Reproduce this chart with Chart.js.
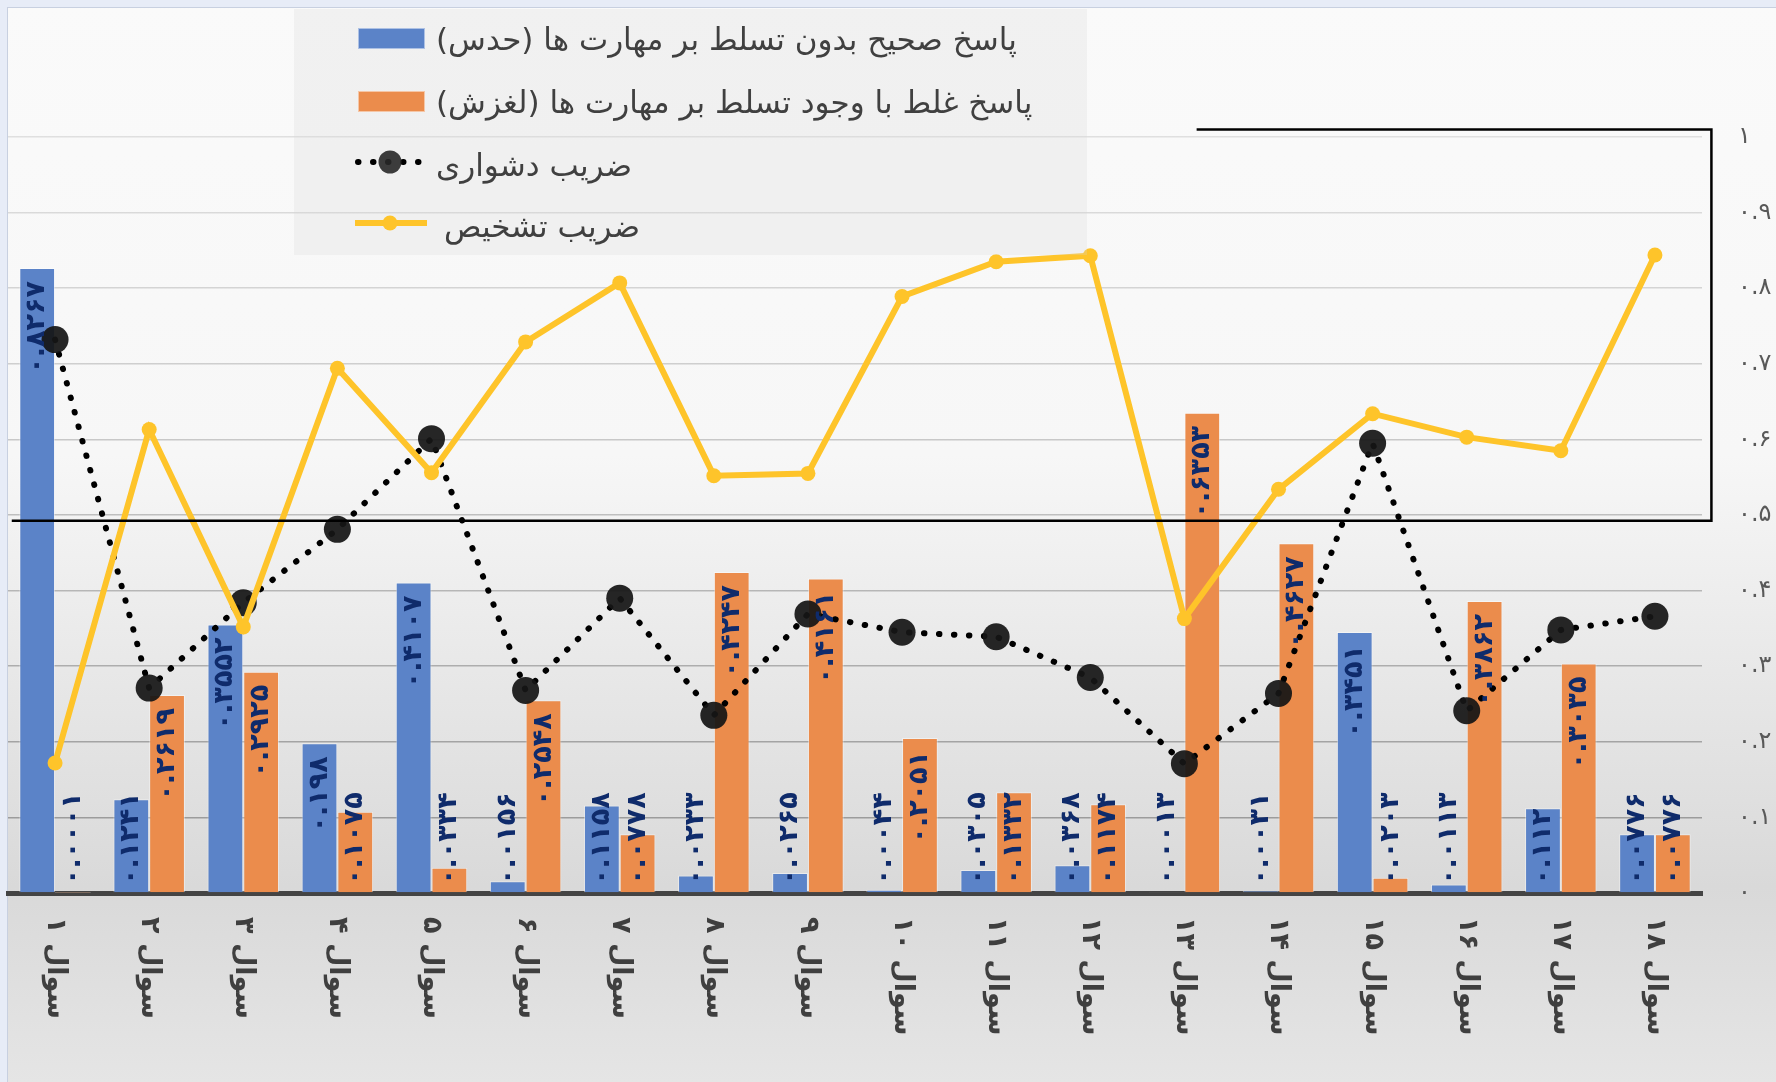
<!DOCTYPE html>
<html lang="fa">
<head>
<meta charset="utf-8">
<title>ضریب دشواری و تشخیص سوالات</title>
<script src="https://cdn.jsdelivr.net/npm/chart.js@4.4.1/dist/chart.umd.min.js"></script>
<style>
  html, body { margin: 0; padding: 0; background: #fafafa; }
  #wrap { position: relative; width: 1776px; height: 1082px; }
</style>
</head>
<body>
<div id="wrap"><canvas id="chart"></canvas></div>
<script>
/* ============================================================
   DATA
   ============================================================ */
const questions = ['سوال ۱', 'سوال ۲', 'سوال ۳', 'سوال ۴', 'سوال ۵', 'سوال ۶', 'سوال ۷', 'سوال ۸', 'سوال ۹',
  'سوال ۱۰', 'سوال ۱۱', 'سوال ۱۲', 'سوال ۱۳', 'سوال ۱۴', 'سوال ۱۵', 'سوال ۱۶', 'سوال ۱۷', 'سوال ۱۸'];

// پاسخ صحیح بدون تسلط (حدس)
const guessValues = [0.8267, 0.1241, 0.3552, 0.198, 0.4107, 0.0156, 0.1158, 0.0233, 0.0265,
  0.0044, 0.0305, 0.0368, 0.0013, 0.0031, 0.3451, 0.0113, 0.112, 0.0776];
// پاسخ غلط با وجود تسلط (لغزش)
const slipValues = [0.0001, 0.2619, 0.2925, 0.1075, 0.0334, 0.2548, 0.0778, 0.4247, 0.4161,
  0.2051, 0.1332, 0.1174, 0.6353, 0.4627, 0.0203, 0.3862, 0.3035, 0.0776];
// ضریب دشواری
const difficulty = [0.732, 0.271, 0.384, 0.481, 0.601, 0.268, 0.390, 0.235, 0.369,
  0.345, 0.339, 0.285, 0.171, 0.264, 0.595, 0.241, 0.348, 0.366];
// ضریب تشخیص
const discrimination = [0.172, 0.613, 0.352, 0.694, 0.556, 0.729, 0.807, 0.552, 0.555,
  0.789, 0.835, 0.843, 0.363, 0.534, 0.634, 0.603, 0.585, 0.844];

const yTickLabels = ['۰', '۰.۱', '۰.۲', '۰.۳', '۰.۴', '۰.۵', '۰.۶', '۰.۷', '۰.۸', '۰.۹', '۱'];

const legendLabels = [
  'پاسخ صحیح بدون تسلط بر مهارت ها (حدس)',
  'پاسخ غلط با وجود تسلط بر مهارت ها (لغزش)',
  'ضریب دشواری',
  'ضریب تشخیص'
];

// highlighted box (value units: category index / y value)
const boxTop = 1.01, boxBottom = 0.4925;
const boxTopFrom = 12.13, boxRight = 17.6, boxBottomFrom = -0.46;

/* ============================================================
   HELPERS
   ============================================================ */
const FA_DIGITS = '۰۱۲۳۴۵۶۷۸۹';
const toFa = s => String(s).replace(/\d/g, d => FA_DIGITS[d]);
const fmtValue = v => toFa(parseFloat(v.toFixed(4)).toString());

const BLUE = '#5b83c8';
const ORANGE = '#eb8c4c';
const YELLOW = '#fec42a';
const FONT = "'DejaVu Sans'";

/* ============================================================
   PLUGINS
   ============================================================ */
const backgroundPlugin = {
  id: 'bg',
  beforeDraw(chart) {
    const { ctx, width, height } = chart;
    ctx.save();
    const g = ctx.createLinearGradient(0, 0, 0, height);
    g.addColorStop(0, '#fafafa');
    g.addColorStop(0.42, '#f7f7f7');
    g.addColorStop(0.82, '#d9d9d9');
    g.addColorStop(1, '#e5e5e5');
    ctx.fillStyle = g;
    ctx.fillRect(0, 0, width, height);
    // selection frame on top / left
    ctx.fillStyle = '#e7ecf7';
    ctx.fillRect(0, 0, width, 7);
    ctx.fillRect(0, 0, 7, height);
    ctx.fillStyle = '#c8d0e0';
    ctx.fillRect(7, 7, width, 1);
    ctx.fillRect(7, 7, 1, height);
    ctx.restore();
  }
};

const overlayPlugin = {
  id: 'overlay',
  afterDatasetsDraw(chart) {
    const { ctx, chartArea } = chart;
    const xs = chart.scales.x, ys = chart.scales.y;

    // black frame
    ctx.save();
    ctx.strokeStyle = '#000';
    ctx.lineWidth = 2.5;
    ctx.beginPath();
    ctx.moveTo(xs.getPixelForValue(boxTopFrom), ys.getPixelForValue(boxTop));
    ctx.lineTo(xs.getPixelForValue(boxRight), ys.getPixelForValue(boxTop));
    ctx.lineTo(xs.getPixelForValue(boxRight), ys.getPixelForValue(boxBottom));
    ctx.lineTo(xs.getPixelForValue(boxBottomFrom), ys.getPixelForValue(boxBottom));
    ctx.stroke();
    ctx.restore();

    // bar value labels (rotated)
    ctx.save();
    ctx.font = `bold 27px ${FONT}`;
    ctx.fillStyle = '#0f2b6b';
    ctx.direction = 'ltr';
    ctx.textAlign = 'right';
    ctx.textBaseline = 'middle';
    const base = chartArea.bottom;
    [2, 3].forEach(di => {
      const meta = chart.getDatasetMeta(di);
      const values = chart.data.datasets[di].data;
      meta.data.forEach((bar, i) => {
        const txt = fmtValue(values[i]);
        const w = ctx.measureText(txt).width;
        let top = bar.y + 13;
        if (top + w > base - 8) top = base - 8 - w;
        ctx.save();
        ctx.translate(bar.x, top);
        ctx.rotate(-Math.PI / 2);
        ctx.fillText(txt, 0, 0);
        ctx.restore();
      });
    });
    ctx.restore();
  },
  afterDraw(chart) {
    const { ctx, chartArea } = chart;
    const xs = chart.scales.x;

    // category labels, rotated clockwise
    ctx.save();
    ctx.font = `bold 27px ${FONT}`;
    ctx.fillStyle = '#3f3f3f';
    ctx.direction = 'rtl';
    ctx.textAlign = 'left';
    ctx.textBaseline = 'middle';
    questions.forEach((q, i) => {
      ctx.save();
      ctx.translate(xs.getPixelForValue(i), chartArea.bottom + 24);
      ctx.rotate(Math.PI / 2);
      ctx.fillText(q, 0, 0);
      ctx.restore();
    });
    ctx.restore();

    // legend
    ctx.save();
    ctx.fillStyle = 'rgba(215,215,215,0.25)';
    ctx.fillRect(294, 9, 793, 246);

    ctx.fillStyle = BLUE;
    ctx.fillRect(358, 28, 67, 21);
    ctx.fillStyle = ORANGE;
    ctx.fillRect(358, 91, 67, 21);
    ctx.strokeStyle = 'rgba(255,255,255,0.5)';
    ctx.lineWidth = 1;
    ctx.strokeRect(358.5, 28.5, 66, 20);
    ctx.strokeRect(358.5, 91.5, 66, 20);

    // dotted symbol
    ctx.strokeStyle = '#000';
    ctx.lineWidth = 6;
    ctx.lineCap = 'round';
    ctx.setLineDash([0.5, 14.5]);
    ctx.beginPath();
    ctx.moveTo(358, 162);
    ctx.lineTo(422, 162);
    ctx.stroke();
    ctx.setLineDash([]);
    ctx.fillStyle = 'rgba(40,40,40,0.9)';
    ctx.beginPath();
    ctx.arc(390, 162, 11.5, 0, Math.PI * 2);
    ctx.fill();

    // yellow symbol
    ctx.strokeStyle = YELLOW;
    ctx.lineWidth = 6;
    ctx.lineCap = 'butt';
    ctx.beginPath();
    ctx.moveTo(355, 223);
    ctx.lineTo(427, 223);
    ctx.stroke();
    ctx.fillStyle = YELLOW;
    ctx.beginPath();
    ctx.arc(390, 223, 7.5, 0, Math.PI * 2);
    ctx.fill();

    ctx.font = `31px ${FONT}`;
    ctx.fillStyle = '#404040';
    ctx.direction = 'rtl';
    ctx.textAlign = 'left';
    ctx.textBaseline = 'middle';
    ctx.fillText(legendLabels[0], 436, 42);
    ctx.fillText(legendLabels[1], 436, 105);
    ctx.fillText(legendLabels[2], 436, 168);
    ctx.fillText(legendLabels[3], 444, 229);
    ctx.restore();
  }
};

/* ============================================================
   CHART
   ============================================================ */
new Chart(document.getElementById('chart').getContext('2d'), {
  type: 'bar',
  data: {
    labels: questions,
    datasets: [
      {
        type: 'line',
        label: legendLabels[3],
        data: discrimination,
        borderColor: YELLOW,
        backgroundColor: YELLOW,
        borderWidth: 6,
        pointRadius: 7.5,
        pointBackgroundColor: YELLOW,
        pointBorderWidth: 0,
        tension: 0,
        order: 0
      },
      {
        type: 'line',
        label: legendLabels[2],
        data: difficulty,
        borderColor: '#000',
        borderWidth: 6,
        borderDash: [0.5, 14.5],
        borderCapStyle: 'round',
        pointRadius: 13.5,
        pointBackgroundColor: 'rgba(22,22,22,0.93)',
        pointBorderWidth: 0,
        tension: 0,
        order: 1
      },
      {
        label: legendLabels[0],
        data: guessValues,
        backgroundColor: BLUE,
        borderColor: 'rgba(255,255,255,0.45)',
        borderWidth: 1,
        order: 2
      },
      {
        label: legendLabels[1],
        data: slipValues,
        backgroundColor: ORANGE,
        borderColor: 'rgba(255,255,255,0.45)',
        borderWidth: 1,
        order: 3
      }
    ]
  },
  options: {
    responsive: true,
    maintainAspectRatio: false,
    animation: false,
    layout: { autoPadding: false, padding: { left: 8, top: 137, right: 0, bottom: 0 } },
    plugins: { legend: { display: false }, tooltip: { enabled: false } },
    datasets: { bar: { categoryPercentage: 0.76, barPercentage: 1 } },
    scales: {
      x: {
        grid: { display: false },
        border: { display: true, color: '#444', width: 5 },
        ticks: { display: false },
        afterFit: s => { s.height = 189; }
      },
      y: {
        position: 'right',
        min: 0,
        max: 1,
        ticks: {
          stepSize: 0.1,
          padding: 36,
          color: '#595959',
          font: { family: 'DejaVu Sans', size: 24 },
          callback: (v, i) => yTickLabels[i]
        },
        grid: {
          drawTicks: false,
          lineWidth: 1.5,
          color: c => `rgba(0,0,0,${(0.1 + 0.22 * (1 - c.tick.value)).toFixed(3)})`
        },
        border: { display: false },
        afterFit: s => { s.width = 74; }
      }
    }
  },
  plugins: [backgroundPlugin, overlayPlugin]
});
</script>
</body>
</html>
